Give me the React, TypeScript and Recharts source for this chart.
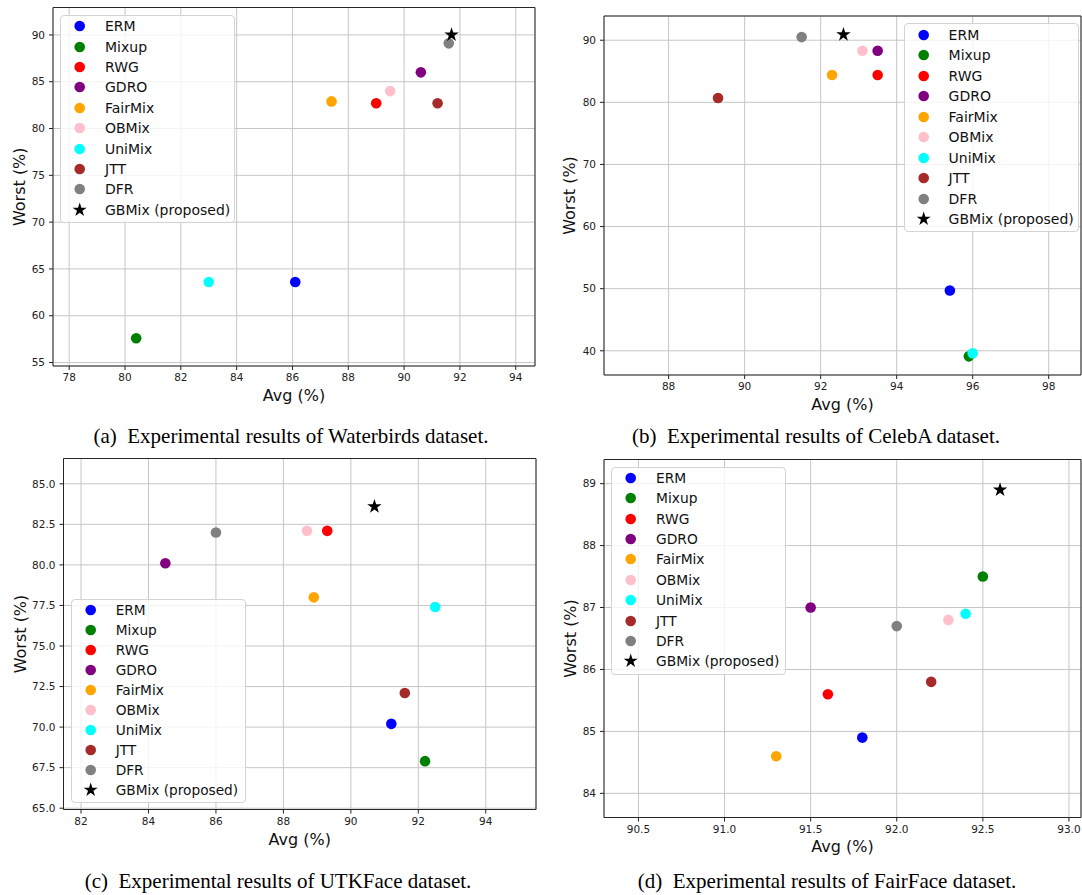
import React from 'react';
import { ScatterChart, Scatter, XAxis, YAxis, CartesianGrid, ReferenceArea, Legend } from 'recharts';

const METHODS = ['ERM', 'Mixup', 'RWG', 'GDRO', 'FairMix', 'OBMix', 'UniMix', 'JTT', 'DFR', 'GBMix (proposed)'];
const COLORS = ['#0000ff', '#008000', '#ff0000', '#800080', '#ffa500', '#ffc0cb', '#00ffff', '#a52a2a', '#808080', '#000000'];

// (a) Waterbirds
const WB_AVG = [86.1, 80.4, 89.0, 90.6, 87.4, 89.5, 83.0, 91.2, 91.6, 91.7];
const WB_WORST = [63.6, 57.6, 82.7, 86.0, 82.9, 84.0, 63.6, 82.7, 89.1, 90.0];
const WB_X_TICKS = [78, 80, 82, 84, 86, 88, 90, 92, 94];
const WB_Y_TICKS = [55, 60, 65, 70, 75, 80, 85, 90];

// (b) CelebA
const CA_AVG = [95.4, 95.9, 93.5, 93.5, 92.3, 93.1, 96.0, 89.3, 91.5, 92.6];
const CA_WORST = [49.7, 39.1, 84.4, 88.3, 84.4, 88.3, 39.6, 80.7, 90.5, 90.9];
const CA_X_TICKS = [88, 90, 92, 94, 96, 98];
const CA_Y_TICKS = [40, 50, 60, 70, 80, 90];

// (c) UTKFace
const UTK_AVG = [91.2, 92.2, 89.3, 84.5, 88.9, 88.7, 92.5, 91.6, 86.0, 90.7];
const UTK_WORST = [70.2, 67.9, 82.1, 80.1, 78.0, 82.1, 77.4, 72.1, 82.0, 83.6];
const UTK_X_TICKS = [82, 84, 86, 88, 90, 92, 94];
const UTK_Y_TICKS = [65, 67.5, 70, 72.5, 75, 77.5, 80, 82.5, 85];

// (d) FairFace
const FF_AVG = [91.8, 92.5, 91.6, 91.5, 91.3, 92.3, 92.4, 92.2, 92.0, 92.6];
const FF_WORST = [84.9, 87.5, 85.6, 87.0, 84.6, 86.8, 86.9, 85.8, 86.7, 88.9];
const FF_X_TICKS = [90.5, 91.0, 91.5, 92.0, 92.5, 93.0];
const FF_Y_TICKS = [84, 85, 86, 87, 88, 89];

const starPath = (cx: number, cy: number, R: number) => {
  const r = R * 0.382;
  let d = '';
  for (let k = 0; k < 10; k++) {
    const rad = k % 2 === 0 ? R : r;
    const a = -Math.PI / 2 + (k * Math.PI) / 5;
    d += (k === 0 ? 'M' : 'L') + (cx + rad * Math.cos(a)).toFixed(2) + ',' + (cy + rad * Math.sin(a)).toFixed(2);
  }
  return d + 'Z';
};

const dot = (color: string) => (p: any) => <circle cx={p.cx} cy={p.cy} r={5.3} fill={color} />;
const star = (p: any) => <path d={starPath(p.cx, p.cy, 7.6)} fill="#000" />;

const fmt1 = (v: number) => v.toFixed(1);

const LegendBox = ({ rowH, fontSize }: { rowH: number; fontSize: number }) => (
  <div
    style={{
      width: 175,
      boxSizing: 'border-box',
      background: 'rgba(255,255,255,0.8)',
      border: '1px solid #d4d4d4',
      borderRadius: 4,
      paddingBottom: 2,
    }}
  >
    {METHODS.map((m, i) => (
      <div key={m} style={{ display: 'flex', alignItems: 'center', height: rowH }}>
        <svg width={44} height={18} style={{ flex: 'none' }}>
          {i === METHODS.length - 1 ? (
            <path d={starPath(18.7, 9, 7.4)} fill="#000" />
          ) : (
            <circle cx={18.7} cy={9} r={5.3} fill={COLORS[i]} />
          )}
        </svg>
        <span style={{ fontSize, color: '#111', whiteSpace: 'nowrap' }}>{m}</span>
      </div>
    ))}
  </div>
);

const panels = [
  {
    key: 'a', left: 0, top: 0, width: 540, height: 406,
    margin: { top: 7.5, right: 5, bottom: 0, left: 0 }, yAxisWidth: 53,
    avg: WB_AVG, worst: WB_WORST, xTicks: WB_X_TICKS, yTicks: WB_Y_TICKS,
    xDomain: [77.42, 94.69], yDomain: [54.63, 92.93],
    yLabelOffset: 19, xLabelOffset: 5,
    legend: { left: 60, top: 15, rowH: 20.4, fontSize: 14 },
  },
  {
    key: 'b', left: 541, top: 0, width: 541, height: 415,
    margin: { top: 16, right: 1, bottom: 0, left: 0 }, yAxisWidth: 63,
    avg: CA_AVG, worst: CA_WORST, xTicks: CA_X_TICKS, yTicks: CA_Y_TICKS,
    xDomain: [86.3, 98.85], yDomain: [36.1, 93.9],
    yLabelOffset: 28.4, xLabelOffset: 5,
    legend: { left: 362.6, top: 23.3, rowH: 20.5, fontSize: 14 },
  },
  {
    key: 'c', left: 0, top: 440, width: 540, height: 409.5,
    margin: { top: 18.5, right: 4, bottom: 0, left: 0 }, yAxisWidth: 63.5,
    avg: UTK_AVG, worst: UTK_WORST, xTicks: UTK_X_TICKS, yTicks: UTK_Y_TICKS,
    xDomain: [81.48, 95.49], yDomain: [64.92, 86.56], yFmt: fmt1,
    yLabelOffset: 20, xLabelOffset: 4.5,
    legend: { left: 70.7, top: 158.7, rowH: 20.08, fontSize: 13.7 },
  },
  {
    key: 'd', left: 541, top: 440, width: 541, height: 417.5,
    margin: { top: 19.5, right: 1, bottom: 0, left: 0 }, yAxisWidth: 63,
    avg: FF_AVG, worst: FF_WORST, xTicks: FF_X_TICKS, yTicks: FF_Y_TICKS,
    xDomain: [90.3, 93.07], yDomain: [83.61, 89.39], xFmt: fmt1,
    yLabelOffset: 29.3, xLabelOffset: 5.2,
    legend: { left: 70, top: 26.7, rowH: 20.4, fontSize: 13.8 },
  },
];

const captions = [
  { text: '(a)\u00a0\u00a0Experimental results of Waterbirds dataset.', cx: 291, cy: 436 },
  { text: '(b)\u00a0\u00a0Experimental results of CelebA dataset.', cx: 816, cy: 436 },
  { text: '(c)\u00a0\u00a0Experimental results of UTKFace dataset.', cx: 278, cy: 881 },
  { text: '(d)\u00a0\u00a0Experimental results of FairFace dataset.', cx: 827, cy: 881 },
];

const tickStyle = { fill: '#222', fontSize: 10.5 };

function Panel({ cfg }: { cfg: any }) {
  return (
    <div style={{ position: 'absolute', left: cfg.left, top: cfg.top }}>
      <ScatterChart width={cfg.width} height={cfg.height} margin={cfg.margin}>
        <CartesianGrid stroke="#c6c6c6" strokeWidth={1} />
        <XAxis
          type="number"
          dataKey="avg"
          domain={cfg.xDomain}
          ticks={cfg.xTicks}
          allowDataOverflow
          interval={0}
          height={40}
          tickSize={4}
          tickMargin={4}
          tick={tickStyle}
          tickFormatter={cfg.xFmt}
          axisLine={false}
          tickLine={{ stroke: '#222' }}
          label={{ value: 'Avg (%)', position: 'insideBottom', offset: cfg.xLabelOffset, style: { fontSize: 16, fill: '#111' } }}
        />
        <YAxis
          type="number"
          dataKey="worst"
          domain={cfg.yDomain}
          ticks={cfg.yTicks}
          allowDataOverflow
          interval={0}
          width={cfg.yAxisWidth}
          tickSize={4}
          tickMargin={4}
          tick={tickStyle}
          tickFormatter={cfg.yFmt}
          axisLine={false}
          tickLine={{ stroke: '#222' }}
          label={{
            value: 'Worst (%)',
            angle: -90,
            position: 'insideLeft',
            offset: cfg.yLabelOffset,
            style: { textAnchor: 'middle', fontSize: 16, fill: '#111' },
          }}
        />
        <ReferenceArea
          x1={cfg.xDomain[0]}
          x2={cfg.xDomain[1]}
          y1={cfg.yDomain[0]}
          y2={cfg.yDomain[1]}
          fill="none"
          stroke="#262626"
          strokeWidth={1}
          ifOverflow="visible"
        />
        {METHODS.map((m, i) => (
          <Scatter
            key={m}
            name={m}
            data={[{ avg: cfg.avg[i], worst: cfg.worst[i] }]}
            fill={COLORS[i]}
            shape={i === METHODS.length - 1 ? star : dot(COLORS[i])}
            isAnimationActive={false}
          />
        ))}
        <Legend
          layout="vertical"
          align="center"
          verticalAlign="middle"
          wrapperStyle={{ left: cfg.legend.left, top: cfg.legend.top, width: 'auto', height: 'auto' }}
          content={() => <LegendBox rowH={cfg.legend.rowH} fontSize={cfg.legend.fontSize} />}
        />
      </ScatterChart>
    </div>
  );
}

export default function App() {
  return (
    <div
      style={{
        position: 'absolute',
        left: 0,
        top: 0,
        width: 1082,
        height: 895,
        overflow: 'hidden',
        background: '#fff',
        fontFamily: '"DejaVu Sans", sans-serif',
      }}
    >
      {panels.map((p) => (
        <Panel key={p.key} cfg={p} />
      ))}
      {captions.map((c) => (
        <div
          key={c.text}
          style={{
            position: 'absolute',
            left: c.cx - 270,
            top: c.cy - 12,
            width: 540,
            lineHeight: '24px',
            textAlign: 'center',
            fontFamily: '"Liberation Serif", serif',
            fontSize: 21,
            color: '#000',
            whiteSpace: 'nowrap',
          }}
        >
          {c.text}
        </div>
      ))}
    </div>
  );
}
